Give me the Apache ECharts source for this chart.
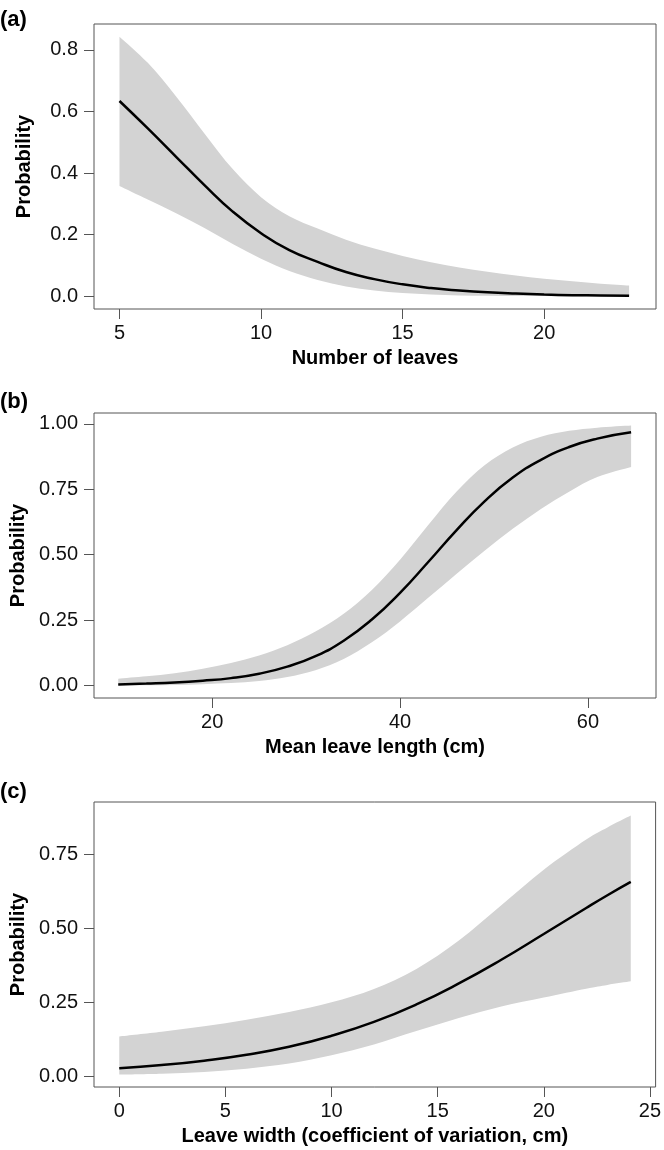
<!DOCTYPE html>
<html>
<head>
<meta charset="utf-8">
<script src="https://cdn.jsdelivr.net/npm/echarts@6/dist/echarts.min.js"></script>
<style>
    html, body { margin: 0; padding: 0; background: #fff; }
    #chart { width: 664px; height: 1150px; }
</style>
</head>
<body>
<div id="chart"></div>
<script>

// Data
// ------------------------------

// (a) Number of leaves
var xA = [5, 6, 7, 8, 9, 10, 11, 12, 13, 14, 15, 16, 17, 18, 19, 20, 21, 22, 23];
var meanA = [0.634, 0.545, 0.453, 0.361, 0.275, 0.205, 0.150, 0.112, 0.079, 0.056, 0.039, 0.027, 0.019, 0.013, 0.009, 0.006, 0.004, 0.003, 0.002];
var upA = [0.843, 0.758, 0.649, 0.529, 0.413, 0.322, 0.260, 0.220, 0.184, 0.155, 0.131, 0.111, 0.094, 0.080, 0.068, 0.057, 0.049, 0.041, 0.035];
var lowA = [0.358, 0.314, 0.270, 0.222, 0.170, 0.122, 0.082, 0.053, 0.032, 0.019, 0.011, 0.006, 0.003, 0.002, 0.001, 0.001, 0, 0, 0];

// (b) Mean leave length
var xB = [10, 13, 16, 19, 22, 25, 28, 31, 34, 37, 40, 43, 46, 49, 52, 55, 58, 61, 64.6];
var meanB = [0.004, 0.007, 0.011, 0.018, 0.028, 0.045, 0.072, 0.112, 0.171, 0.252, 0.354, 0.472, 0.593, 0.704, 0.795, 0.863, 0.912, 0.944, 0.968];
var upB = [0.026, 0.035, 0.047, 0.064, 0.086, 0.115, 0.154, 0.206, 0.274, 0.365, 0.481, 0.614, 0.741, 0.842, 0.910, 0.951, 0.974, 0.986, 0.994];
var lowB = [0.001, 0.001, 0.002, 0.005, 0.009, 0.017, 0.032, 0.058, 0.101, 0.165, 0.245, 0.335, 0.426, 0.515, 0.599, 0.675, 0.741, 0.797, 0.835];

// (c) Leave width (CV)
var xC = [0, 2, 4, 6, 8, 10, 12, 14, 16, 18, 20, 22, 23, 24.1];
var meanC = [0.026, 0.037, 0.052, 0.072, 0.099, 0.136, 0.183, 0.242, 0.313, 0.393, 0.480, 0.568, 0.611, 0.656];
var upC = [0.134, 0.150, 0.168, 0.190, 0.216, 0.249, 0.294, 0.362, 0.458, 0.577, 0.697, 0.799, 0.840, 0.880];
var lowC = [0.005, 0.008, 0.014, 0.025, 0.042, 0.070, 0.107, 0.152, 0.196, 0.235, 0.265, 0.295, 0.308, 0.320];

// Tick labels
var ticksXA = [5, 10, 15, 20];
var ticksYA = [0, 0.2, 0.4, 0.6, 0.8];
var ticksXB = [20, 40, 60];
var ticksYB = [0, 0.25, 0.5, 0.75, 1];
var ticksXC = [0, 5, 10, 15, 20, 25];
var ticksYC = [0, 0.25, 0.5, 0.75];

var panels = ['(a)', '(b)', '(c)'];
var xNames = ['Number of leaves', 'Mean leave length (cm)', 'Leave width (coefficient of variation, cm)'];


// Chart setup
// ------------------------------

var FONT = '"Liberation Sans", Arial, Helvetica, sans-serif';
var BOX = '#555';
var BAND = '#d3d3d3';

var chart = echarts.init(document.getElementById('chart'), null, { renderer: 'canvas' });

var pairs = function(xs, ys) {
    return xs.map(function(x, i) { return [x, ys[i]]; });
};

// Smooth path (Catmull-Rom as cubic beziers) through already mapped pixel points
var curveThrough = function(p) {
    var s = '';
    for (var i = 0; i < p.length - 1; i++) {
        var p0 = p[Math.max(i - 1, 0)], p1 = p[i], p2 = p[i + 1], p3 = p[Math.min(i + 2, p.length - 1)];
        var c1 = [p1[0] + (p2[0] - p0[0]) / 6, p1[1] + (p2[1] - p0[1]) / 6];
        var c2 = [p2[0] - (p3[0] - p1[0]) / 6, p2[1] - (p3[1] - p1[1]) / 6];
        s += ' C' + c1[0] + ' ' + c1[1] + ' ' + c2[0] + ' ' + c2[1] + ' ' + p2[0] + ' ' + p2[1];
    }
    return s;
};

var makeX = function(idx, min, max, ticks) {
    return {
        type: 'value',
        gridIndex: idx,
        min: min,
        max: max,
        name: xNames[idx],
        nameLocation: 'middle',
        nameGap: 39,
        nameTextStyle: { fontFamily: FONT, fontWeight: 'bold', fontSize: 20, color: '#000' },
        axisLine: { show: false, onZero: false },
        axisTick: { show: true, length: 10, customValues: ticks, lineStyle: { color: BOX, width: 1 } },
        axisLabel: { customValues: ticks, margin: 14, fontFamily: FONT, fontSize: 20, color: '#111' },
        splitLine: { show: false }
    };
};

var makeY = function(idx, min, max, ticks, digits) {
    return {
        type: 'value',
        gridIndex: idx,
        min: min,
        max: max,
        name: 'Probability',
        nameLocation: 'middle',
        nameGap: 60,
        nameTextStyle: { fontFamily: FONT, fontWeight: 'bold', fontSize: 20, color: '#000' },
        axisLine: { show: false, onZero: false },
        axisTick: { show: true, length: 10, customValues: ticks, lineStyle: { color: BOX, width: 1 } },
        axisLabel: {
            customValues: ticks,
            margin: 16,
            fontFamily: FONT,
            fontSize: 20,
            color: '#111',
            formatter: function(v) { return v.toFixed(digits); }
        },
        splitLine: { show: false }
    };
};

// Confidence band: filled region between lower and upper curves
var bandSeries = function(idx, xs, lo, up) {
    return {
        type: 'custom',
        coordinateSystem: 'cartesian2d',
        xAxisIndex: idx,
        yAxisIndex: idx,
        silent: true,
        clip: true,
        data: [[xs[0], lo[0]]],
        renderItem: function(params, api) {
            var top = xs.map(function(x, i) { return api.coord([x, up[i]]); });
            var bot = xs.map(function(x, i) { return api.coord([x, lo[i]]); }).reverse();
            var d = 'M' + top[0][0] + ' ' + top[0][1] + curveThrough(top) +
                ' L' + bot[0][0] + ' ' + bot[0][1] + curveThrough(bot) + ' Z';
            return {
                type: 'path',
                shape: { pathData: d },
                style: { fill: BAND, stroke: null }
            };
        },
        animation: false
    };
};

var meanSeries = function(idx, xs, ys) {
    return {
        type: 'line',
        xAxisIndex: idx,
        yAxisIndex: idx,
        data: pairs(xs, ys),
        smooth: true,
        symbol: 'none',
        lineStyle: { color: '#000', width: 2.5 },
        z: 5,
        animation: false
    };
};

var gridTops = [24, 413, 802];

chart.setOption({
    animation: false,
    textStyle: { fontFamily: FONT },

    title: panels.map(function(p, i) {
        return {
            text: p,
            left: 0,
            top: [9, 391, 781][i],
            padding: 0,
            textStyle: { fontFamily: FONT, fontWeight: 'bold', fontSize: 22, color: '#000' }
        };
    }),

    grid: gridTops.map(function(t) {
        return {
            left: 94,
            top: t,
            width: 562,
            height: 285,
            show: true,
            borderColor: BOX,
            borderWidth: 1,
            backgroundColor: 'transparent'
        };
    }),

    xAxis: [
        makeX(0, 4.1, 23.95, ticksXA),
        makeX(1, 7.42, 67.25, ticksXB),
        makeX(2, -1.19, 25.27, ticksXC)
    ],

    yAxis: [
        makeY(0, -0.041, 0.884, ticksYA, 1),
        makeY(1, -0.048, 1.042, ticksYB, 2),
        makeY(2, -0.037, 0.926, ticksYC, 2)
    ],

    series: [
        bandSeries(0, xA, lowA, upA),
        meanSeries(0, xA, meanA),

        bandSeries(1, xB, lowB, upB),
        meanSeries(1, xB, meanB),

        bandSeries(2, xC, lowC, upC),
        meanSeries(2, xC, meanC)
    ]
});
</script>
</body>
</html>
